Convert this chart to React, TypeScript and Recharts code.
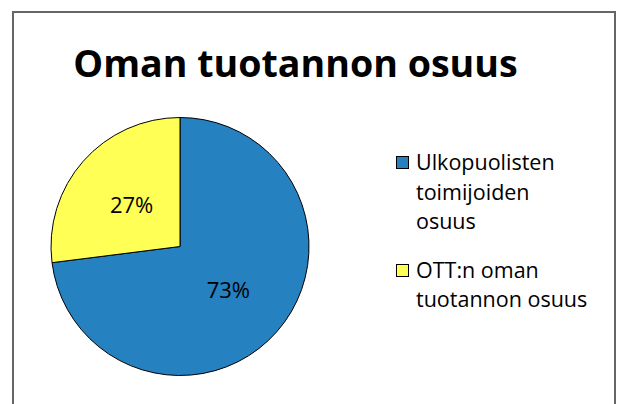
import { Legend, Pie, PieChart } from 'recharts';

const sliceNames = ['Ulkopuolisten toimijoiden osuus', 'OTT:n oman tuotannon osuus'];
const sliceValues = [73, 27];
const sliceColors = ['#2681c1', '#ffff55'];
// legend text as it wraps in the original
const legendLines = [
  ['Ulkopuolisten', 'toimijoiden', 'osuus'],
  ['OTT:n oman', 'tuotannon osuus'],
];

const pieData = sliceNames.map((name, i) => ({
  name,
  value: sliceValues[i],
  fill: sliceColors[i],
}));

const FONT = '"Open Sans", sans-serif';
const RAD = Math.PI / 180;

function renderLabel(props: any) {
  const { cx, cy, midAngle, outerRadius, percent } = props;
  const r = outerRadius * 0.5;
  const x = cx + r * Math.cos(-midAngle * RAD);
  const y = cy + r * Math.sin(-midAngle * RAD);
  return (
    <text
      x={x}
      y={y}
      fill="#000"
      textAnchor="middle"
      dominantBaseline="central"
      style={{ fontFamily: FONT, fontSize: 22 }}
    >
      {`${Math.round(percent * 100)}%`}
    </text>
  );
}

function LegendBox() {
  return (
    <div style={{ fontFamily: FONT, fontSize: 21.5, lineHeight: '29.5px', color: '#000' }}>
      {pieData.map((d, i) => (
        <div key={d.name} style={{ display: 'flex', alignItems: 'flex-start', marginBottom: 19 }}>
          <span
            style={{
              display: 'inline-block',
              width: 11,
              height: 11,
              background: d.fill,
              border: '1px solid #000',
              marginTop: 9,
              marginRight: 7,
              flexShrink: 0,
            }}
          />
          <span style={{ whiteSpace: 'nowrap' }}>
            {legendLines[i].map((line) => (
              <div key={line}>{line}</div>
            ))}
          </span>
        </div>
      ))}
    </div>
  );
}

export default function App() {
  return (
    <div style={{ position: 'absolute', left: 0, top: 0, width: 620, height: 404, background: '#fff', overflow: 'hidden' }}>
      <div
        style={{
          position: 'absolute',
          left: 12,
          top: 11,
          width: 600,
          height: 420,
          border: '2px solid #666',
        }}
      />
      <div
        style={{
          position: 'absolute',
          left: 0,
          width: 591,
          top: 38,
          textAlign: 'center',
          fontFamily: FONT,
          fontWeight: 700,
          fontSize: 37.6,
          lineHeight: '50px',
          color: '#000',
        }}
      >
        Oman tuotannon osuus
      </div>
      <PieChart width={620} height={404} style={{ position: 'absolute', left: 0, top: 0 }}>
        <Pie
          data={pieData}
          dataKey="value"
          nameKey="name"
          cx={175}
          cy={241.5}
          outerRadius={129}
          startAngle={90}
          endAngle={-270}
          stroke="#000"
          strokeWidth={1}
          label={renderLabel}
          labelLine={false}
          isAnimationActive={false}
        />
        <Legend
          layout="vertical"
          align="right"
          verticalAlign="top"
          content={LegendBox}
          wrapperStyle={{ left: 396, top: 147, width: 215 }}
        />
      </PieChart>
    </div>
  );
}
